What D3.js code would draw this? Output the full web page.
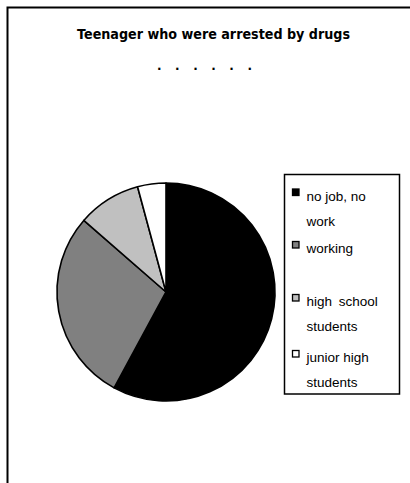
<!DOCTYPE html>
<html>
<head>
<meta charset="utf-8">
<script src="https://cdn.jsdelivr.net/npm/d3@7"></script>
<style>
  html, body { margin: 0; padding: 0; background: #fff; }
  svg { display: block; }
</style>
</head>
<body>
<svg id="chart" width="410" height="483"></svg>
<script>
// Chart data
const titleText = "Teenager who were arrested by drugs";
const subtitleText = ". . . . . .";
const categories = ["no job, no work", "working", "high school students", "junior high students"];
const legendLines = [["no job, no", "work"], ["working"], ["high school", "students"], ["junior high", "students"]];
const shares = [57.9, 28.5, 9.4, 4.2];
const fills = ["#000000", "#808080", "#c0c0c0", "#ffffff"];

const svg = d3.select("#chart");

// Outer frame (runs past the right and bottom edges)
svg.append("path")
  .attr("d", "M7.5,490 L7.5,7.5 L420,7.5")
  .attr("fill", "none")
  .attr("stroke", "#000")
  .attr("stroke-width", 2);

// Title
svg.append("text")
  .attr("x", 77).attr("y", 38.5)
  .attr("textLength", 273)
  .attr("lengthAdjust", "spacingAndGlyphs")
  .style("font-family", "'DejaVu Sans', sans-serif")
  .style("font-size", "13.5px")
  .style("font-weight", "bold")
  .text(titleText);

svg.append("text")
  .attr("x", 157).attr("y", 69.5)
  .attr("textLength", 95)
  .attr("lengthAdjust", "spacing")
  .style("font-family", "'DejaVu Sans', sans-serif")
  .style("font-size", "12px")
  .style("font-weight", "bold")
  .text(subtitleText);

// Pie
const cx = 166, cy = 292, r = 109;
const pie = d3.pie().sort(null).value(d => d)(shares);
const arc = d3.arc().innerRadius(0).outerRadius(r);
const color = d3.scaleOrdinal().domain(categories).range(fills);

svg.append("g")
  .attr("transform", `translate(${cx},${cy})`)
  .selectAll("path")
  .data(pie)
  .join("path")
  .attr("d", arc)
  .attr("fill", (d, i) => color(categories[i]))
  .attr("stroke", "#000")
  .attr("stroke-width", 1.6)
  .attr("stroke-linejoin", "round");

// Legend
const legend = svg.append("g");
legend.append("rect")
  .attr("x", 284.5).attr("y", 174.5)
  .attr("width", 115).attr("height", 219.5)
  .attr("fill", "#fff")
  .attr("stroke", "#000")
  .attr("stroke-width", 1.5);

const firstBaselines = [200.5, 253, 306, 362];
const lineGap = 25;

categories.forEach((c, i) => {
  const g = legend.append("g");
  g.append("rect")
    .attr("x", 292.5).attr("y", firstBaselines[i] - 11.5)
    .attr("width", 6.5).attr("height", 6.5)
    .attr("fill", color(c))
    .attr("stroke", "#000")
    .attr("stroke-width", 1.3);
  legendLines[i].forEach((line, j) => {
    g.append("text")
      .attr("x", 306.5)
      .attr("y", firstBaselines[i] + j * lineGap)
      .style("font-family", "'Liberation Sans', Arial, sans-serif")
      .style("font-size", "13.5px")
      .style("word-spacing", line === "high school" ? "3px" : "0px")
      .text(line);
  });
});
</script>
</body>
</html>
